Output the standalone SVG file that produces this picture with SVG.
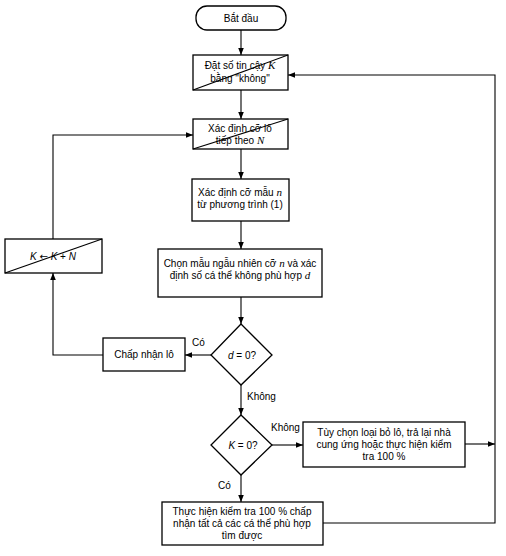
<svg xmlns="http://www.w3.org/2000/svg" width="506" height="556" viewBox="0 0 506 556">
<style>
.b{fill:#fff;stroke:#000;stroke-width:1.3}
.l{fill:none;stroke:#000;stroke-width:1.1}
.c{fill:none;stroke:#000;stroke-width:1.1}
text{font-family:"Liberation Sans",Arial,sans-serif;font-size:10px;fill:#000}
.m{text-anchor:middle}
.v{font-family:"Liberation Serif","Times New Roman",serif;font-style:italic;font-size:11px}
.i{font-style:italic}
.ar{font-family:"DejaVu Sans",sans-serif}
</style>
<defs>
<marker id="a" viewBox="0 0 10 10" refX="10" refY="5" markerWidth="7" markerHeight="7" markerUnits="userSpaceOnUse" orient="auto">
<path d="M0,1 L10,5 L0,9 z" fill="#000"/>
</marker>
</defs>
<rect width="506" height="556" fill="#fff"/>
<g id="connectors">
<path class="c" d="M241,30 V55" marker-end="url(#a)"/>
<path class="c" d="M241,90 V119" marker-end="url(#a)"/>
<path class="c" d="M241,149 V179" marker-end="url(#a)"/>
<path class="c" d="M241,221 V249" marker-end="url(#a)"/>
<path class="c" d="M241,297 V324" marker-end="url(#a)"/>
<path class="c" d="M211,355 H185" marker-end="url(#a)"/>
<path class="c" d="M103,355 H53 V273" marker-end="url(#a)"/>
<path class="c" d="M53,239 V135 H193" marker-end="url(#a)"/>
<path class="c" d="M241,385 V415" marker-end="url(#a)"/>
<path class="c" d="M272,445 H303" marker-end="url(#a)"/>
<path class="c" d="M465,444 H495" marker-end="url(#a)"/>
<path class="c" d="M241,475 V502" marker-end="url(#a)"/>
<path class="c" d="M323,523 H495 V75 H288" marker-end="url(#a)"/>
<text x="192" y="346">Có</text>
<text x="247" y="400">Không</text>
<text x="271" y="431">Không</text>
<text x="218" y="489">Có</text>
</g>
<g id="start">
<rect class="b" x="196" y="6" width="90" height="24" rx="11"/>
<text class="m" x="241" y="22">Bắt đầu</text>
</g>
<g id="setK">
<rect class="b" x="193" y="55" width="95" height="35"/>
<path class="l" d="M193,90 L288,55"/>
<text class="m" x="240" y="69">Đặt số tin cậy <tspan class="v">K</tspan></text>
<text class="m" x="240" y="82">bằng "không"</text>
</g>
<g id="lotN">
<rect class="b" x="193" y="119" width="95" height="30"/>
<path class="l" d="M193,149 L288,119"/>
<text class="m" x="240" y="132">Xác định cỡ lô</text>
<text class="m" x="240" y="144">tiếp theo <tspan class="v">N</tspan></text>
</g>
<g id="sizeN">
<rect class="b" x="192" y="179" width="97" height="42"/>
<text class="m" x="240" y="196">Xác định cỡ mẫu <tspan class="v">n</tspan></text>
<text class="m" x="240" y="208">từ phương trình (1)</text>
</g>
<g id="sample">
<rect class="b" x="158" y="249" width="164" height="48"/>
<text class="m" x="240" y="267">Chọn mẫu ngẫu nhiên cỡ <tspan class="v">n</tspan> và xác</text>
<text class="m" x="240" y="279">định số cá thể không phù hợp <tspan class="v">d</tspan></text>
</g>
<g id="d0">
<path class="b" d="M241,324 L272,355 L241,385 L211,355 Z"/>
<text class="m" x="242" y="359"><tspan class="i">d</tspan> = 0?</text>
</g>
<g id="accept">
<rect class="b" x="103" y="338" width="82" height="33"/>
<text class="m" x="144" y="358">Chấp nhận lô</text>
</g>
<g id="update">
<rect class="b" x="5" y="239" width="97" height="34"/>
<path class="l" d="M5,273 L102,239"/>
<text class="m" x="53" y="260"><tspan class="i">K</tspan> <tspan class="ar">←</tspan> <tspan class="i">K</tspan> + <tspan class="i">N</tspan></text>
</g>
<g id="k0">
<path class="b" d="M241,415 L272,445 L241,475 L211,445 Z"/>
<text class="m" x="243" y="449"><tspan class="i">K</tspan> = 0?</text>
</g>
<g id="option">
<rect class="b" x="303" y="422" width="162" height="45"/>
<text class="m" x="384" y="436">Tùy chọn loại bỏ lô, trả lại nhà</text>
<text class="m" x="384" y="448">cung ứng hoặc thực hiện kiểm</text>
<text class="m" x="384" y="460">tra 100 %</text>
</g>
<g id="full">
<rect class="b" x="162" y="502" width="161" height="43"/>
<text class="m" x="242" y="515">Thực hiện kiểm tra 100 % chấp</text>
<text class="m" x="242" y="527">nhận tất cả các cá thể phù hợp</text>
<text class="m" x="242" y="539">tìm được</text>
</g>
</svg>
